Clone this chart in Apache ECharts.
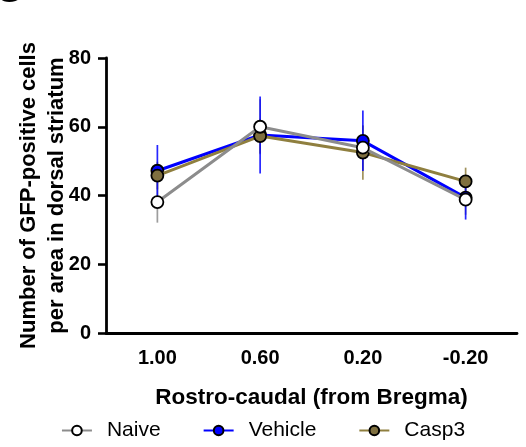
<!DOCTYPE html>
<html>
<head>
<meta charset="utf-8">
<script src="https://cdn.jsdelivr.net/npm/echarts@6/dist/echarts.min.js"></script>
<style>
html,body{margin:0;padding:0;background:#fff;}
#chart{width:526px;height:447px;}
</style>
</head>
<body>
<div id="chart"></div>
<script>
const categories = ['1.00', '0.60', '0.20', '-0.20'];
const seriesNames = ['Naive', 'Vehicle', 'Casp3'];
const naiveMean = [38.1, 60.0, 53.9, 38.8];
const naiveErr = [6.0, 8.0, 6.5, 4.4];
const vehicleMean = [47.2, 57.6, 55.9, 39.4];
const vehicleErr = [7.5, 11.2, 8.8, 6.4];
const casp3Mean = [45.8, 57.3, 52.5, 44.1];
const casp3Err = [4.0, 5.0, 7.9, 4.0];
const yTicks = [0, 20, 40, 60, 80];

const colors = { Naive: '#8c8c8c', Vehicle: '#0000ff', Casp3: '#8f7f3f' };
const fills = { Naive: '#ffffff', Vehicle: '#0000ff', Casp3: '#7f7040' };
const means = { Naive: naiveMean, Vehicle: vehicleMean, Casp3: casp3Mean };
const errs = { Naive: naiveErr, Vehicle: vehicleErr, Casp3: casp3Err };

const FONT = 'Liberation Sans, Arial, sans-serif';
const chart = echarts.init(document.getElementById('chart'), null, { renderer: 'canvas' });

function errSeries(name, z) {
  const data = means[name].map((m, i) => [i, m - errs[name][i], m + errs[name][i]]);
  return {
    type: 'custom',
    name: name + ' err',
    z: z,
    silent: true,
    data: data,
    renderItem: function (params, api) {
      const lo = api.coord([api.value(0), api.value(1)]);
      const hi = api.coord([api.value(0), api.value(2)]);
      return {
        type: 'line',
        shape: { x1: lo[0], y1: lo[1], x2: hi[0], y2: hi[1] },
        style: { stroke: colors[name], lineWidth: 1.7, opacity: 0.85 }
      };
    }
  };
}

function lineSeries(name, z) {
  return {
    type: 'line',
    name: name,
    z: z,
    data: means[name],
    symbol: 'circle',
    symbolSize: 12,
    lineStyle: { color: colors[name], width: 3 },
    itemStyle: { color: fills[name], borderColor: '#000', borderWidth: 1.8 },
    emphasis: { disabled: true }
  };
}

chart.setOption({
  animation: false,
  backgroundColor: '#ffffff',
  graphic: [{
    type: 'text', left: -4, top: -24,
    style: { text: 'G', font: 'bold 34px ' + FONT, fill: '#000' }
  }],
  grid: { left: 106, right: 9, top: 58, bottom: 114, containLabel: false, outerBoundsMode: 'none' },
  legend: {
    bottom: 1,
    left: 'center',
    itemWidth: 30,
    itemHeight: 12,
    itemGap: 42,
    data: seriesNames,
    textStyle: { fontFamily: FONT, fontSize: 21, color: '#000', padding: [0, 0, 0, 10] }
  },
  xAxis: {
    type: 'category',
    data: categories,
    boundaryGap: true,
    name: 'Rostro-caudal (from Bregma)',
    nameLocation: 'middle',
    nameGap: 53,
    nameTextStyle: { fontFamily: FONT, fontSize: 22.5, fontWeight: 'bold', color: '#000' },
    axisLine: { lineStyle: { color: '#000', width: 2.8 } },
    axisTick: { alignWithLabel: true, length: 8, lineStyle: { color: '#000', width: 2.6 } },
    axisLabel: { fontFamily: FONT, fontSize: 20, fontWeight: 'bold', color: '#000', margin: 15 }
  },
  yAxis: {
    type: 'value',
    min: 0, max: 80, interval: 20,
    name: 'Number of GFP-positive cells\nper area in dorsal striatum',
    nameLocation: 'middle',
    nameGap: 35,
    nameMoveOverlap: false,
    nameTextStyle: { fontFamily: FONT, fontSize: 22, fontWeight: 'bold', color: '#000', lineHeight: 28 },
    splitLine: { show: false },
    axisLine: { show: true, lineStyle: { color: '#000', width: 2.8 } },
    axisTick: { show: true, length: 8, lineStyle: { color: '#000', width: 2.6 } },
    axisLabel: {
      fontFamily: FONT, fontSize: 20, fontWeight: 'bold', color: '#000', margin: 15,
      formatter: function (v) { return yTicks.indexOf(v) >= 0 ? String(v) : ''; }
    }
  },
  series: [
    errSeries('Naive', 1),
    errSeries('Casp3', 1),
    errSeries('Vehicle', 1),
    lineSeries('Vehicle', 3),
    lineSeries('Casp3', 4),
    lineSeries('Naive', 5)
  ]
});
</script>
</body>
</html>
